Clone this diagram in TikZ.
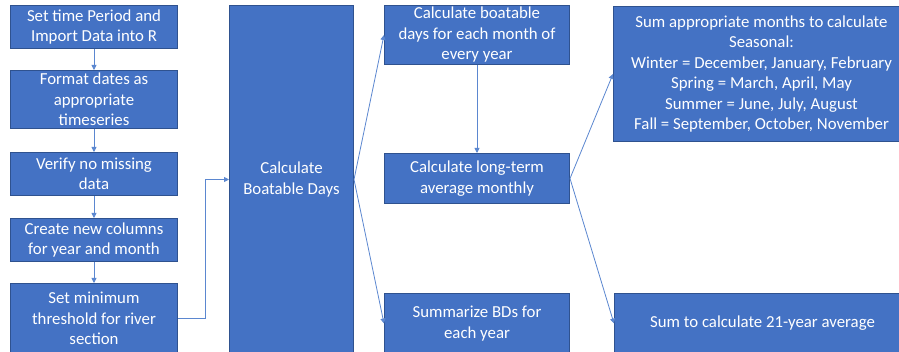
\documentclass[tikz,border=0pt]{standalone}
\usepackage{fontspec}
\setmainfont{Carlito}
\usetikzlibrary{arrows.meta}
\definecolor{boxfill}{HTML}{4472C4}
\definecolor{boxline}{HTML}{2F528F}
\definecolor{arrowc}{HTML}{5B87D0}
\tikzset{
  box/.style={draw=boxline, line width=1pt, fill=boxfill, text=white, align=center,
    inner sep=0pt, anchor=north west, font=\fontsize{16.8}{20.5}\selectfont},
  arr/.style={draw=arrowc, line width=0.8pt, -{Triangle[length=5pt,width=5pt]}}
}
\begin{document}
\begin{tikzpicture}[x=1pt,y=-1pt]
\useasboundingbox (0,0) rectangle (899,352);
\clip (0,0) rectangle (899,352);
\fill[white] (0,0) rectangle (899,352);
\node[box, minimum width=167pt, minimum height=43pt] (n1) at (10,5) {Set time Period and\\Import Data into R};
\node[box, minimum width=167pt, minimum height=58pt] (n2) at (10,70) {Format dates as\\appropriate\\timeseries};
\node[box, minimum width=167pt, minimum height=43pt] (n3) at (10,152) {Verify no missing\\data};
\node[box, minimum width=167pt, minimum height=43pt] (n4) at (10,218) {Create new columns\\for year and month};
\node[box, minimum width=167pt, minimum height=70pt] (n5) at (10,283) {Set minimum\\threshold for river\\section};
\node[box, minimum width=124pt, minimum height=348pt] (big) at (229,5) {Calculate\\Boatable Days};
\node[box, minimum width=185pt, minimum height=59pt] (a) at (384,5) {Calculate boatable\\days for each month of\\every year};
\node[box, minimum width=185pt, minimum height=50pt] (b) at (384,153) {Calculate long-term\\average monthly};
\node[box, minimum width=185pt, minimum height=60pt] (c) at (384,293) {Summarize BDs for\\each year};
\node[box, minimum width=296pt, minimum height=135pt] (s) at (613,6) {Sum appropriate months to calculate\\Seasonal:\\Winter = December, January, February\\Spring = March, April, May\\Summer = June, July, August\\Fall = September, October, November};
\node[box, minimum width=296pt, minimum height=60pt] (t) at (614,293) {Sum to calculate 21-year average};
\draw[arr] (n1) -- (n2);
\draw[arr] (n2) -- (n3);
\draw[arr] (n3) -- (n4);
\draw[arr] (n4) -- (n5);
\draw[arr] (n5.east) -- ++(27,0) |- (big.west);
\draw[arr] (big.east) -- (a.west);
\draw[arr] (big.east) -- (c.west);
\draw[arr] (a) -- (b);
\draw[arr] (b.east) -- (s.west);
\draw[arr] (b.east) -- (t.west);
\end{tikzpicture}
\end{document}
